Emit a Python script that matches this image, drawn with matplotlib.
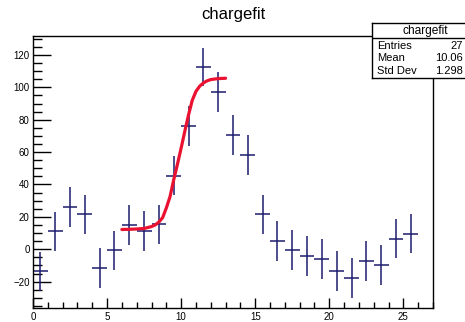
"""Recreate the ROOT 'chargefit' histogram with its fit curve."""

import matplotlib
matplotlib.use("Agg")
import matplotlib.pyplot as plt
from matplotlib.ticker import MultipleLocator

plt.rcParams["font.family"] = ["Liberation Sans", "DejaVu Sans"]

# ---------------------------------------------------------------------------
# Data
# ---------------------------------------------------------------------------
bin_centers = [0.5, 1.5, 2.5, 3.5, 4.5, 5.5, 6.5, 7.5, 8.5, 9.5, 10.5, 11.5, 12.5,
               13.5, 14.5, 15.5, 16.5, 17.5, 18.5, 19.5, 20.5, 21.5, 22.5, 23.5,
               24.5, 25.5]
bin_counts = [-13.7, 11.2, 25.9, 21.5, -11.6, -0.6, 14.9, 11.2, 15.3, 45.5, 76.0,
              112.6, 97.3, 70.4, 58.4, 21.5, 5.0, -0.6, -4.3, -6.2, -13.7, -17.8,
              -7.5, -9.9, 6.6, 9.7]
bin_errors = [12.0, 12.1, 12.4, 12.0, 12.2, 12.1, 12.3, 12.3, 12.3, 12.3, 12.4,
              11.5, 12.4, 12.4, 12.4, 12.3, 12.3, 12.3, 12.3, 12.3, 12.3, 12.3,
              12.3, 12.3, 12.3, 12.3]

# fit curve, sampled from the red line
fit_x = [6.0, 6.5, 7.0, 7.5, 8.0, 8.25, 8.5, 8.75, 9.0, 9.25, 9.5, 9.75, 10.0,
         10.25, 10.5, 10.75, 11.0, 11.25, 11.5, 11.75, 12.0, 12.5, 13.0]
fit_y = [12.2, 12.3, 12.5, 12.8, 14.0, 15.0, 16.8, 19.5, 25.5, 32.5, 43.0, 52.5,
         62.5, 73.0, 83.0, 92.0, 97.5, 100.7, 102.7, 104.0, 104.8, 105.4, 105.6]

stats_labels = ["Entries", "Mean", "Std Dev"]
stats_values = ["27", "10.06", "1.298"]

W, H = 465, 322

fig = plt.figure(figsize=(W / 100, H / 100), dpi=100)

# main pad
ax = fig.add_axes([33 / W, 1 - 308 / H, 400 / W, 272 / H])
ax.errorbar(bin_centers, bin_counts, yerr=bin_errors, xerr=0.5, fmt="none",
            ecolor="#1c1c6e", elinewidth=1.1, capsize=0)
ax.plot(fit_x, fit_y, color="#ea1230", lw=2.3, solid_capstyle="round")

ax.set_xlim(0, 27)
ax.set_ylim(-36.3, 131.7)
ax.xaxis.set_major_locator(MultipleLocator(5))
ax.xaxis.set_minor_locator(MultipleLocator(1))
ax.yaxis.set_major_locator(MultipleLocator(20))
ax.yaxis.set_minor_locator(MultipleLocator(5))
ax.tick_params(axis="x", which="major", direction="in", length=7, width=1,
               labelsize=7, pad=3)
ax.tick_params(axis="x", which="minor", direction="in", length=4, width=1)
ax.tick_params(axis="y", which="major", direction="in", length=13, width=1,
               labelsize=7, pad=2.5)
ax.tick_params(axis="y", which="minor", direction="in", length=6.5, width=1)
for s in ax.spines.values():
    s.set_linewidth(1.0)

fig.text(233 / W, 1 - 14 / H, "chargefit", ha="center", va="center", fontsize=12)

# stats box (runs off the right edge, as in the original canvas)
sb = fig.add_axes([372 / W, 1 - 78.3 / H, 110 / W, 55.6 / H])
sb.set_xlim(372, 482)
sb.set_ylim(78.3, 22.7)
sb.set_xticks([])
sb.set_yticks([])
sb.set_facecolor("white")
for s in sb.spines.values():
    s.set_linewidth(1.0)
sb.axhline(38.3, color="black", lw=1.0)
sb.text(425, 30.8, "chargefit", ha="center", va="center", fontsize=8.6)
rows_y = [45.7, 57.9, 70.7]
for lab, val, y in zip(stats_labels, stats_values, rows_y):
    sb.text(377.3, y, lab, ha="left", va="center", fontsize=8.0)
    sb.text(463, y, val, ha="right", va="center", fontsize=8.0)

fig.savefig("out.png", dpi=100)
